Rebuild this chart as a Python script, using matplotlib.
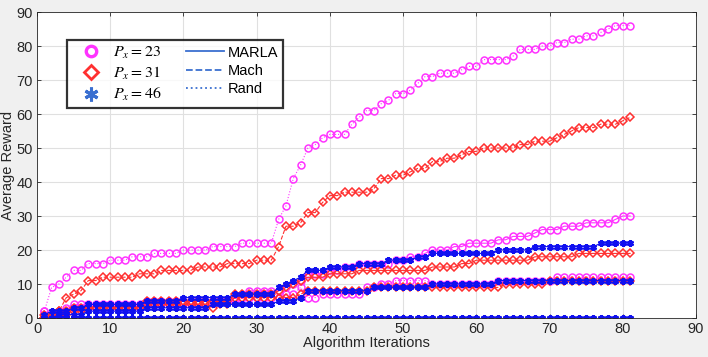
import numpy as np
import matplotlib.pyplot as plt
from matplotlib.lines import Line2D

# iteration index
iters = np.arange(1, 82)

# Px = 23 (magenta)
m_top = [2, 9, 10, 12, 14, 14, 16, 16, 16, 17, 17, 17, 18, 18, 18, 19, 19, 19, 19, 20,
         20, 20, 20, 21, 21, 21, 21, 22, 22, 22, 22, 22, 29, 33, 41, 45, 50, 51, 53, 54,
         54, 54, 57, 59, 61, 61, 63, 64, 66, 66, 67, 69, 71, 71, 72, 72, 72, 73, 74, 74,
         76, 76, 76, 76, 77, 79, 79, 79, 80, 80, 81, 81, 82, 82, 83, 83, 84, 85, 86, 86, 86]
m_mid = [2, 1, 2, 3, 4, 4, 4, 4, 4, 4, 4, 4, 4, 4, 5, 5, 5, 5, 5, 5,
         5, 5, 5, 5, 5, 5, 6, 7, 8, 8, 8, 8, 8, 9, 10, 11, 13, 13, 13, 14,
         14, 15, 15, 16, 16, 16, 16, 16, 17, 17, 18, 18, 19, 20, 20, 20, 21, 21, 22, 22,
         22, 22, 23, 23, 24, 24, 24, 25, 26, 26, 26, 27, 27, 27, 28, 28, 28, 28, 29, 30, 30]
m_low = [1, 1, 1, 2, 3, 3, 3, 3, 3, 3, 3, 3, 3, 3, 4, 4, 4, 4, 4, 4,
         4, 4, 4, 5, 5, 5, 5, 6, 6, 6, 6, 6, 6, 7, 7, 9, 6, 6, 7, 7,
         7, 7, 7, 7, 9, 9, 10, 10, 11, 11, 11, 11, 11, 10, 10, 10, 10, 10, 10, 10,
         10, 10, 11, 11, 11, 11, 11, 11, 11, 11, 12, 12, 12, 12, 12, 12, 12, 12, 12, 12, 12]

# Px = 31 (red)
r_top = [0, 1, 2, 6, 7, 8, 11, 11, 12, 12, 12, 12, 12, 13, 13, 13, 14, 14, 14, 14,
         14, 15, 15, 15, 15, 16, 16, 16, 16, 17, 17, 17, 21, 27, 27, 28, 31, 31, 34, 36,
         36, 37, 37, 37, 37, 38, 41, 41, 42, 42, 43, 44, 44, 46, 46, 47, 47, 48, 49, 49,
         50, 50, 50, 50, 50, 51, 51, 52, 52, 52, 53, 54, 55, 56, 56, 56, 57, 57, 57, 58, 59]
r_mid = [1, 1, 2, 2, 3, 3, 3, 3, 3, 3, 3, 3, 3, 3, 5, 5, 5, 5, 5, 5,
         5, 5, 5, 5, 5, 5, 7, 7, 7, 7, 7, 7, 8, 9, 10, 11, 12, 12, 12, 13,
         13, 13, 13, 14, 14, 14, 14, 14, 14, 14, 14, 14, 14, 15, 15, 15, 15, 16, 16, 17,
         17, 17, 17, 17, 17, 17, 17, 18, 18, 18, 18, 18, 18, 19, 19, 19, 19, 19, 19, 19, 19]
r_low = [0, 0, 1, 1, 2, 2, 3, 3, 3, 3, 3, 3, 3, 3, 4, 4, 4, 4, 4, 4,
         4, 4, 4, 3, 4, 4, 6, 6, 6, 6, 6, 6, 6, 6, 6, 7, 8, 8, 8, 8,
         8, 8, 8, 8, 8, 9, 9, 9, 9, 9, 9, 9, 9, 9, 9, 9, 9, 9, 9, 9,
         9, 9, 9, 10, 10, 10, 10, 10, 10, 11, 11, 11, 11, 11, 11, 11, 11, 11, 11, 11, 11]

# Px = 46 (blue)
b_top = [1, 2, 2, 2, 3, 3, 4, 4, 4, 4, 4, 4, 4, 4, 5, 5, 5, 5, 5, 6,
         6, 6, 6, 6, 6, 6, 7, 7, 7, 7, 7, 7, 9, 10, 11, 12, 14, 14, 14, 15,
         15, 15, 15, 16, 16, 16, 16, 17, 17, 17, 17, 18, 18, 19, 19, 19, 19, 19, 19, 19,
         19, 19, 20, 20, 20, 20, 20, 21, 21, 21, 21, 21, 21, 21, 21, 21, 22, 22, 22, 22, 22]
b_mid = [0, 0, 1, 1, 1, 1, 2, 2, 2, 2, 2, 2, 2, 2, 3, 3, 3, 3, 3, 3,
         3, 3, 3, 4, 4, 4, 4, 4, 4, 4, 4, 4, 5, 5, 5, 6, 8, 8, 8, 8,
         8, 8, 8, 8, 8, 9, 9, 9, 9, 9, 9, 9, 9, 10, 10, 10, 10, 10, 10, 10,
         10, 10, 11, 11, 11, 11, 11, 11, 11, 11, 11, 11, 11, 11, 11, 11, 11, 11, 11, 11, 11]
b_low = [0] * 81

c_mag = "#FF33FF"
c_red = "#FF3030"
c_blu = "#1010F0"
c_leg = "#3A6FD0"

plt.rcParams["font.family"] = "Liberation Sans"
plt.rcParams["mathtext.fontset"] = "stix"

fig = plt.figure(figsize=(7.08, 3.57), dpi=100, facecolor="#F0F0F0")
ax = fig.add_axes([37 / 708, 39 / 357, 659 / 708, 306 / 357])
ax.set_facecolor("white")

asterisk = (6, 2, 0)
mag_kw = dict(color=c_mag, marker="o", markersize=5, markerfacecolor="none", markeredgewidth=1.1, linewidth=0.8)
red_kw = dict(color=c_red, marker="D", markersize=4, markerfacecolor="none", markeredgewidth=1.1, linewidth=0.8)
blu_kw = dict(color=c_blu, marker=asterisk, markersize=5, markeredgewidth=1.6, linewidth=0.8)

ax.plot(iters, m_top, linestyle=":", **mag_kw)
ax.plot(iters, m_mid, linestyle="-", **mag_kw)
ax.plot(iters, m_low, linestyle=":", **mag_kw)
ax.plot(iters, r_top, linestyle="--", **red_kw)
ax.plot(iters, r_mid, linestyle="-", **red_kw)
ax.plot(iters, r_low, linestyle="--", **red_kw)
ax.plot(iters, b_top, linestyle="-", **blu_kw)
ax.plot(iters, b_mid, linestyle="-", **blu_kw)
ax.plot(iters, b_low, linestyle=":", **blu_kw)

ax.set_xlim(0, 90)
ax.set_ylim(0, 90)
ax.set_xticks(np.arange(0, 91, 10))
ax.set_yticks(np.arange(0, 91, 10))
ax.grid(True, color="#E0E0E0", linewidth=0.8)
ax.set_axisbelow(True)
ax.tick_params(direction="in", top=True, right=True, labelsize=10.5, colors="#262626",
               length=3, width=0.6, pad=3)
for s in ax.spines.values():
    s.set_color("#262626")
    s.set_linewidth(0.6)
ax.set_xlabel("Algorithm Iterations", fontsize=10.5, color="#262626", labelpad=0)
ax.set_ylabel("Average Reward", fontsize=10.5, color="#262626", labelpad=1)

handles = [
    Line2D([], [], color=c_mag, marker="o", markersize=7.5, markerfacecolor="none", markeredgewidth=2.4, linestyle="none"),
    Line2D([], [], color=c_red, marker="D", markersize=7, markerfacecolor="none", markeredgewidth=2, linestyle="none"),
    Line2D([], [], color=c_leg, marker=asterisk, markersize=10, markeredgewidth=2.2, linestyle="none"),
    Line2D([], [], color=c_leg, linestyle="-", linewidth=1.3),
    Line2D([], [], color=c_leg, linestyle="--", linewidth=1.3),
    Line2D([], [], color=c_leg, linestyle=":", linewidth=1.3),
]
labels = [r"$P_x = 23$", r"$P_x = 31$", r"$P_x = 46$", "MARLA", "Mach", "Rand"]
leg = ax.legend(handles, labels, ncol=2, loc="upper left", bbox_to_anchor=(0.0455, 0.908),
                borderaxespad=0, prop={"size": 11.5}, frameon=True, fancybox=False,
                handlelength=2.4, handletextpad=0.2, columnspacing=1.5, labelspacing=0.25,
                borderpad=0.3)
leg.get_frame().set_edgecolor("black")
leg.get_frame().set_linewidth(1.6)
for t in leg.get_texts()[3:]:
    t.set_fontsize(10.5)

fig.savefig("out.png", dpi=100, facecolor=fig.get_facecolor())
